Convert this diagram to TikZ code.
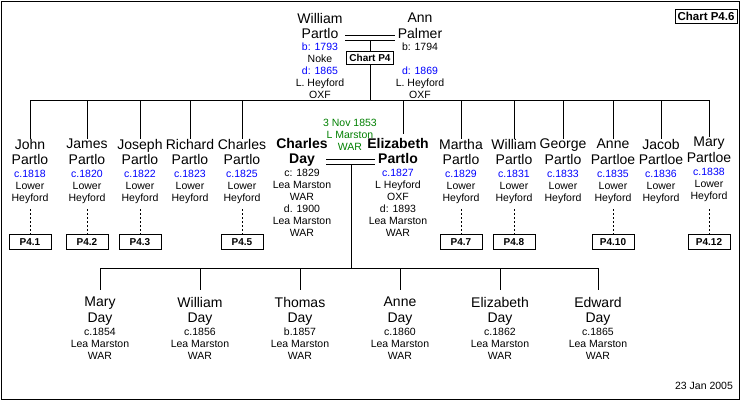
\documentclass[tikz,border=0pt]{standalone}
\usepackage{fontspec}
\setmainfont{Liberation Sans}
\begin{document}
\begin{tikzpicture}[x=1pt,y=-1pt,
  nm/.style={font=\fontsize{14}{15.5}\selectfont,align=center,inner sep=0pt,anchor=north},
  bnm/.style={nm,font=\fontsize{14}{15.5}\selectfont\bfseries},
  det/.style={font=\fontsize{10.5}{12}\selectfont,align=center,inner sep=0pt,anchor=north},
  refbox/.style={draw,font=\fontsize{10}{11}\selectfont\bfseries,minimum width=42pt,minimum height=15pt,inner sep=1pt},
  ln/.style={line width=0.6pt},
  dl/.style={line width=0.5pt,dash pattern=on 2pt off 2pt}]
\useasboundingbox (0,0) rectangle (740,400);
\draw[line width=0.8pt,fill=white] (1,1) rectangle (739,399);
\node[draw,font=\fontsize{11.5}{13}\selectfont\bfseries,inner sep=2.5pt] (chart) at (706,16) {Chart P4.6};
\node[det,anchor=center] (dt) at (704,386) {23 Jan 2005};
% parents
\node[nm] (wp) at (320,13) {William\\Partlo};
\node[det] (wpd) at (320,43) {\color{blue}b: 1793\\Noke\\\color{blue}d: 1865\\L. Heyford\\OXF};
\node[nm] (ap) at (420,13) {Ann\\Palmer};
\node[det] (apd) at (420,43) {b: 1794\\\mbox{}\\\color{blue}d: 1869\\L. Heyford\\OXF};
\coordinate (m1a) at (345,35); \coordinate (m1b) at (395,35);
\coordinate (m2a) at (345,40); \coordinate (m2b) at (395,40);
\draw[ln] (m1a) -- (m1b); \draw[ln] (m2a) -- (m2b);
\node[draw,font=\fontsize{10}{11}\selectfont\bfseries,inner sep=3pt] (p4) at (370,58) {Chart P4};
\coordinate (pt) at (370,40); \coordinate (pb) at (370,100);
\draw[ln] (pt) -- (p4.north); \draw[ln] (p4.south) -- (pb);
\coordinate (bl) at (30,100); \coordinate (br) at (709,100);
\draw[ln] (bl) -- (br);
% children
\foreach \x/\n/\s/\d/\id in {30/John/Partlo/1818/c1,87/James/Partlo/1820/c2,140/Joseph/Partlo/1822/c3,190/Richard/Partlo/1823/c4,242/Charles/Partlo/1825/c5,461/Martha/Partlo/1829/c7,514/William/Partlo/1831/c8,563/George/Partlo/1833/c9,613/Anne/Partloe/1835/c10,661/Jacob/Partloe/1836/c11}{
  \coordinate (\id t) at (\x,100);
  \node[nm] (\id) at (\x,139) {\n\\\s};
  \node[det] (\id d) at (\x,170) {\color{blue}c.\d\\\color{black}Lower\\Heyford};
  \draw[ln] (\id t) -- (\id.north);
}
\coordinate (c12t) at (709,100);
\node[nm] (c12) at (709,137) {Mary\\Partloe};
\node[det] (c12d) at (709,168) {\color{blue}c.1838\\\color{black}Lower\\Heyford};
\draw[ln] (c12t) -- (c12.north);
\coordinate (c6t) at (403,100); \coordinate (c6b) at (403,134);
\draw[ln] (c6t) -- (c6b);
\foreach \x/\id/\l in {30/c1/P4.1,87/c2/P4.2,140/c3/P4.3,242/c5/P4.5,461/c7/P4.7,514/c8/P4.8,613/c10/P4.10,709/c12/P4.12}{
  \node[refbox] (\id r) at (\x,242) {\l};
  \coordinate (\id ds) at (\x,209);
  \draw[dl] (\id ds) -- (\id r.north);
}
% Charles Day & Elizabeth
\node[font=\fontsize{10.5}{12}\selectfont,text=green!50!black,align=center,inner sep=0pt,anchor=north] (mar) at (350,119) {3 Nov 1853\\L Marston\\WAR};
\node[bnm] (cd) at (302,138) {Charles\\Day};
\node[det] (cdd) at (302,169) {c: 1829\\Lea Marston\\WAR\\d. 1900\\Lea Marston\\WAR};
\node[bnm] (ep) at (398,138) {Elizabeth\\Partlo};
\node[det] (epd) at (398,169) {\color{blue}c.1827\\\color{black}L Heyford\\OXF\\d: 1893\\Lea Marston\\WAR};
\coordinate (n1a) at (326,159); \coordinate (n1b) at (375,159);
\coordinate (n2a) at (326,164); \coordinate (n2b) at (375,164);
\draw[ln] (n1a) -- (n1b); \draw[ln] (n2a) -- (n2b);
\coordinate (dt1) at (351,164); \coordinate (db1) at (351,268);
\draw[ln] (dt1) -- (db1);
\coordinate (gl) at (100,268); \coordinate (gr) at (598,268);
\draw[ln] (gl) -- (gr);
\foreach \x/\n/\d/\id in {100/Mary/c.1854/g1,200/William/c.1856/g2,300/Thomas/b.1857/g3,400/Anne/c.1860/g4,500/Elizabeth/c.1862/g5,598/Edward/c.1865/g6}{
  \coordinate (\id t) at (\x,268);
  \node[nm] (\id) at (\x,297) {\n\\Day};
  \node[det] (\id d) at (\x,328) {\d\\Lea Marston\\WAR};
  \draw[ln] (\id t) -- ++(0,22);
}
\end{tikzpicture}
\end{document}
